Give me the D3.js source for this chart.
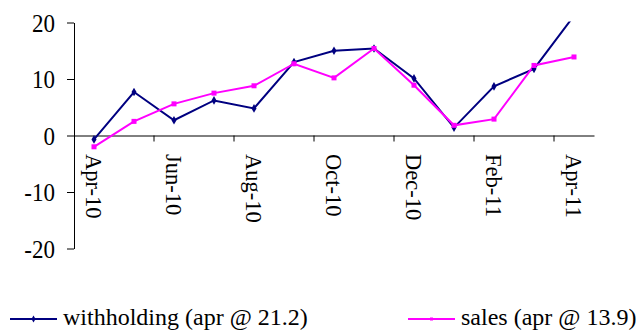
<!DOCTYPE html>
<html>
<head>
<meta charset="utf-8">
<script src="https://cdn.jsdelivr.net/npm/d3@7"></script>
<style>
  html, body { margin: 0; padding: 0; background: #fff; }
  svg { display: block; }
</style>
</head>
<body>
<svg id="chart" width="636" height="331"></svg>
<script>
const months = ["Apr-10","May-10","Jun-10","Jul-10","Aug-10","Sep-10","Oct-10","Nov-10","Dec-10","Jan-11","Feb-11","Mar-11","Apr-11"];
const withholding = [-0.7, 7.7, 2.7, 6.2, 4.8, 13.0, 15.0, 15.4, 10.1, 1.4, 8.7, 11.8, 21.2];
const sales = [-2.0, 2.5, 5.6, 7.5, 8.8, 12.7, 10.2, 15.4, 8.9, 1.8, 2.9, 12.4, 13.9];
const yTicks = [-20, -10, 0, 10, 20];
const xLabels = ["Apr-10","Jun-10","Aug-10","Oct-10","Dec-10","Feb-11","Apr-11"];
const legendLabels = ["withholding (apr @ 21.2)", "sales (apr @ 13.9)"];
const colors = ["#000080", "#FF00FF"];
const FONT = '"Liberation Serif"';

const svg = d3.select("#chart");
const mLeft = 74, mRight = 594, mTop = 22.5, mBottom = 248.5;

const x = d3.scaleBand().domain(months).range([mLeft, mRight]);
const y = d3.scaleLinear().domain([-20, 20]).range([mBottom, mTop]);

svg.append("defs").append("clipPath").attr("id", "plot")
  .append("rect").attr("x", mLeft).attr("y", mTop - 1).attr("width", mRight - mLeft + 2).attr("height", mBottom - mTop + 2);

// Y axis
const yAxis = svg.append("g").attr("transform", `translate(${mLeft},0)`)
  .call(d3.axisLeft(y).tickValues(yTicks).tickSize(7).tickSizeOuter(0).tickPadding(12).tickFormat(d3.format("d")));
yAxis.selectAll("path,line").attr("stroke", "#000").attr("stroke-width", 1);
yAxis.selectAll(".tick text").each(function(d) {
  const t = d3.select(this);
  t.text(d < 0 ? "-" + Math.abs(d) : d)
   .style("font-family", FONT).style("font-size", "23px").attr("fill", "#000")
   .attr("x", null).attr("dy", null)
   .attr("transform", "translate(-19,8.5) scale(1,1.1)");
});

// X axis at zero
const xAxis = svg.append("g").attr("transform", `translate(0,${y(0)})`)
  .call(d3.axisBottom(x).tickValues([]).tickSizeOuter(0));
xAxis.select("path").attr("stroke", "#000");
// tick marks every two categories at boundaries
const boundaries = d3.range(0, months.length + 1, 2).map(i => mLeft + i * x.step());
svg.append("g").selectAll("line").data(boundaries.slice(1)).join("line")
  .attr("x1", d => d).attr("x2", d => d)
  .attr("y1", y(0)).attr("y2", y(0) + 6)
  .attr("stroke", "#000");

// X labels rotated
svg.append("g").selectAll("text").data(xLabels).join("text")
  .attr("transform", d => `translate(${x(d) + x.bandwidth() / 2 - 1},154) rotate(90)`)
  .attr("dy", "0.32em")
  .style("font-family", FONT).style("font-size", "22.5px")
  .attr("fill", "#000")
  .text(d => d);

const line = d3.line()
  .x((d, i) => x(months[i]) + x.bandwidth() / 2)
  .y(d => y(d));

const plot = svg.append("g").attr("clip-path", "url(#plot)");
[withholding, sales].forEach((series, si) => {
  plot.append("path").datum(series)
    .attr("d", line)
    .attr("fill", "none")
    .attr("stroke", colors[si])
    .attr("stroke-width", 2);
});
// markers
plot.append("g").selectAll("path").data(withholding).join("path")
  .attr("d", d3.symbol(d3.symbolDiamond, 22))
  .attr("transform", (d, i) => `translate(${x(months[i]) + x.bandwidth() / 2},${y(d)})`)
  .attr("fill", colors[0]);
plot.append("g").selectAll("rect").data(sales).join("rect")
  .attr("x", (d, i) => x(months[i]) + x.bandwidth() / 2 - 2.5)
  .attr("y", d => y(d) - 2.5)
  .attr("width", 5).attr("height", 5)
  .attr("fill", colors[1]);

// Legend
const legendX = [10, 408];
const legendY = 319;
legendLabels.forEach((lab, i) => {
  const g = svg.append("g");
  g.append("line").attr("x1", legendX[i]).attr("x2", legendX[i] + 47)
    .attr("y1", legendY).attr("y2", legendY)
    .attr("stroke", colors[i]).attr("stroke-width", 2);
  if (i === 0) {
    g.append("path").attr("d", d3.symbol(d3.symbolDiamond, 14))
      .attr("transform", `translate(${legendX[i] + 23.5},${legendY})`).attr("fill", colors[i]);
  } else {
    g.append("rect").attr("x", legendX[i] + 22).attr("y", legendY - 1.5)
      .attr("width", 3).attr("height", 3).attr("fill", colors[i]);
  }
  g.append("text").attr("x", legendX[i] + 53).attr("y", legendY + 6)
    .style("font-family", FONT).style("font-size", "24px")
    .attr("fill", "#000").text(lab);
});
</script>
</body>
</html>
